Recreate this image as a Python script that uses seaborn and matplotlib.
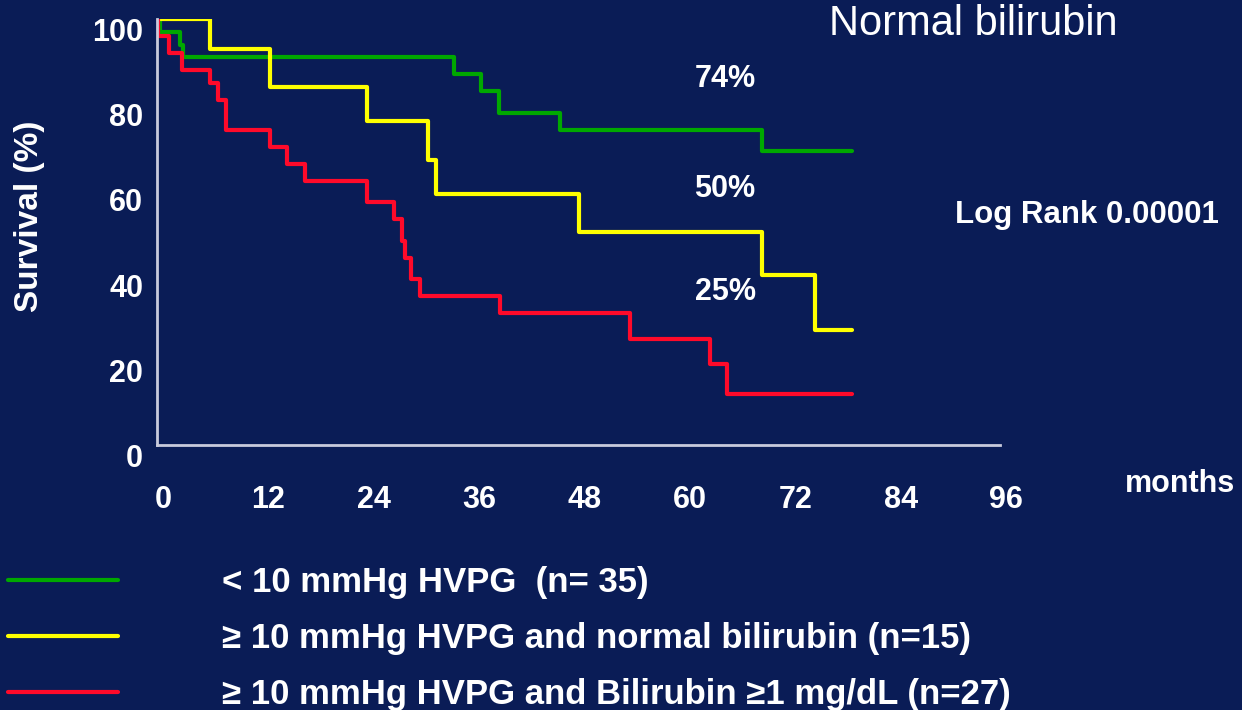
import seaborn as sns
import matplotlib.pyplot as plt
import matplotlib.transforms as mtransforms
import pandas as pd

# Kaplan-Meier steps (months, survival %)
green_months = [0, 0.3, 2.6, 3.0, 33.8, 36.9, 39.0, 45.9, 68.9, 79.1]
green_surv = [100, 97, 94, 91, 87, 83, 78, 74, 69, 69]

yellow_months = [0, 6.0, 12.9, 23.9, 30.9, 31.8, 48.0, 68.9, 74.9, 79.1]
yellow_surv = [100, 93, 84, 76, 67, 59, 50, 40, 27, 27]

red_months = [0, 0.1, 1.4, 2.8, 6.0, 7.0, 7.9, 12.9, 14.8, 16.9, 23.9, 27.0,
              27.9, 28.2, 28.9, 29.9, 39.1, 53.9, 63.0, 64.9, 79.1]
red_surv = [100, 96, 92, 88, 85, 81, 74, 70, 66, 62, 57, 53,
            48, 44, 39, 35, 31, 25, 19, 12, 12]

groups = ["< 10 mmHg HVPG  (n= 35)",
          "\u2265 10 mmHg HVPG and normal bilirubin (n=15)",
          "\u2265 10 mmHg HVPG and Bilirubin \u22651 mg/dL (n=27)"]
colors = ["#00a800", "#ffff00", "#ff0a2a"]

x_ticks = [0, 12, 24, 36, 48, 60, 72, 84, 96]
y_ticks = [0, 20, 40, 60, 80, 100]

# annotations: (month, survival, text)
pct_labels = [(64.7, 86.0, "74%"), (64.7, 60.0, "50%"), (64.7, 36.0, "25%")]

df = pd.concat([
    pd.DataFrame({"months": green_months, "survival": green_surv, "group": groups[0]}),
    pd.DataFrame({"months": yellow_months, "survival": yellow_surv, "group": groups[1]}),
    pd.DataFrame({"months": red_months, "survival": red_surv, "group": groups[2]}),
])

bg = "#0a1c56"
fg = "#c8cadc"
sns.set_style("white")
plt.rcParams["font.family"] = ["Liberation Sans", "DejaVu Sans"]

fig = plt.figure(figsize=(12.42, 7.10), dpi=100, facecolor=bg)
ax = fig.add_axes([157 / 1242, 1 - 445 / 710, 843 / 1242, 426 / 710])
ax.set_facecolor(bg)

sns.lineplot(data=df, x="months", y="survival", hue="group", palette=colors,
             estimator=None, sort=False, drawstyle="steps-post", linewidth=3,
             ax=ax, legend=False)
# legend lines drawn from the same seaborn lines
handles = ax.get_lines()

ax.set_xlim(0, 96)
ax.set_ylim(0, 100)
ax.set_xticks(x_ticks)
ax.set_yticks(y_ticks)
ax.set_xlabel("")
ax.set_ylabel("")
for side in ["top", "right"]:
    ax.spines[side].set_visible(False)
for side in ["left", "bottom"]:
    ax.spines[side].set_color(fg)
    ax.spines[side].set_linewidth(2)

ax.tick_params(axis="both", colors=fg, length=6, width=1.5, direction="out")
ax.tick_params(axis="x", pad=23, labelsize=22, labelcolor="white")
ax.tick_params(axis="y", pad=4, labelsize=22, labelcolor="white")
for lab in ax.get_xticklabels():
    lab.set_fontweight("bold")
    lab.set_transform(lab.get_transform() +
                      mtransforms.ScaledTranslation(6 / 100, 0, fig.dpi_scale_trans))
for lab in ax.get_yticklabels():
    lab.set_fontweight("bold")
    lab.set_verticalalignment("top")
    lab.set_transform(lab.get_transform() +
                      mtransforms.ScaledTranslation(0, 1 / 100, fig.dpi_scale_trans))

for mx, sy, txt in pct_labels:
    ax.text(mx, sy, txt, color="white", fontsize=22, fontweight="bold",
            ha="center", va="center")

fig.text(30 / 1242, 1 - 216 / 710, "Survival (%)", rotation=90, color="white",
         fontsize=24, fontweight="bold", ha="center", va="center")
fig.text(1180 / 1242, 1 - 484 / 710, "months", color="white", fontsize=22,
         fontweight="bold", ha="center", va="center")
fig.text(973 / 1242, 1 - 24 / 710, "Normal bilirubin", color="white", fontsize=30,
         ha="center", va="center")
fig.text(1087 / 1242, 1 - 215 / 710, "Log Rank 0.00001", color="white", fontsize=22.5,
         fontweight="bold", ha="center", va="center")

leg = fig.legend(handles, groups, loc="upper left", bbox_to_anchor=(8 / 1242, 1 - 566 / 710),
                 frameon=False, fontsize=25, handlelength=3.17, handletextpad=3.0,
                 labelspacing=0.66, borderpad=0, borderaxespad=0)
for t in leg.get_texts():
    t.set_color("white")
    t.set_fontweight("bold")

fig.savefig("out.png", dpi=100, facecolor=bg)
